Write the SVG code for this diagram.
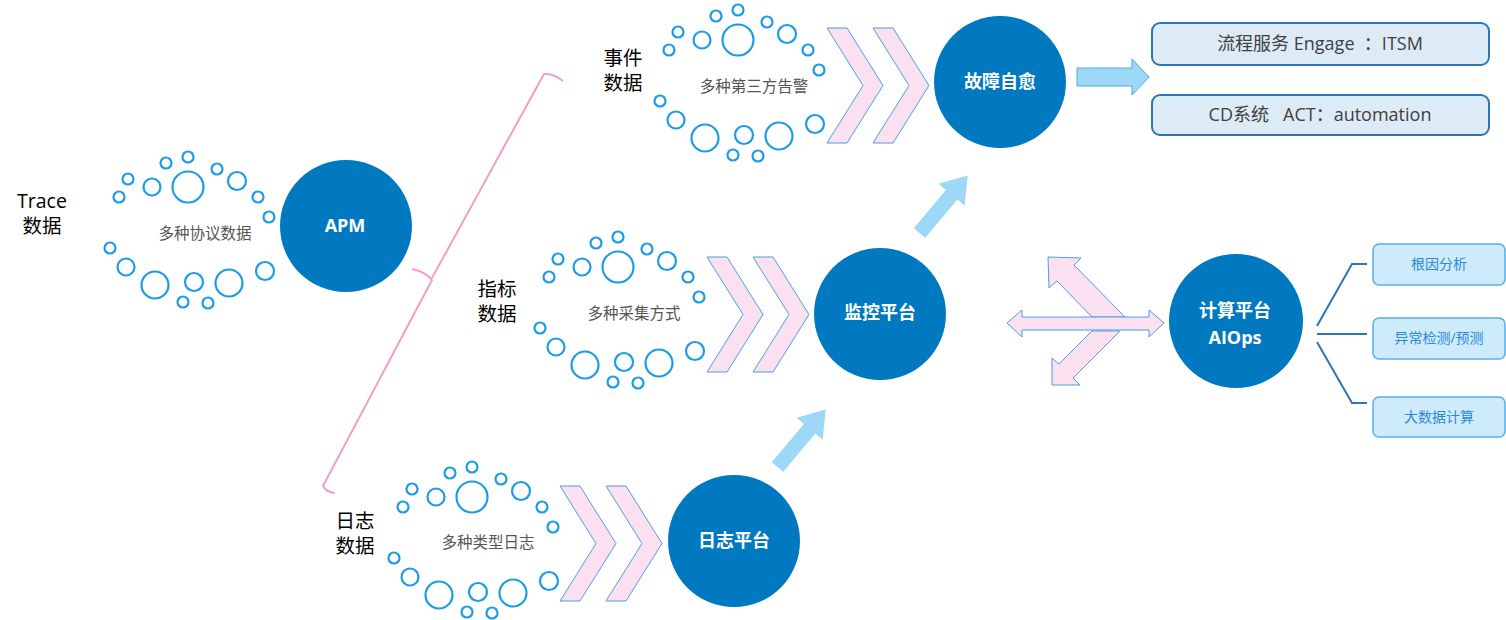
<svg xmlns="http://www.w3.org/2000/svg" xmlns:xlink="http://www.w3.org/1999/xlink" width="1506" height="620" viewBox="0 0 1506 620">
<style>
  text{font-family:"Open Sans","Noto Sans CJK SC",sans-serif;}
  .b{fill:none;stroke:#1E9BE6;stroke-width:2.2;}
  .chev{fill:#FBE1EF;stroke:#4A9FE0;stroke-width:1;}
  .pink{fill:#FBE1EF;stroke:#4A9FE0;stroke-width:1;}
  .node{fill:#0079C1;}
  .nl{fill:#ffffff;font-size:18px;font-weight:bold;text-anchor:middle;}
  .src{fill:#000000;font-size:19.5px;text-anchor:middle;}
  .sub{fill:#555555;font-size:15.5px;text-anchor:middle;}
  .barrow{fill:#9DD8F8;}
  .box1{fill:#DDEBF7;stroke:#2E75B6;stroke-width:2;}
  .box1t{fill:#404040;font-size:18px;text-anchor:middle;white-space:pre;}
  .box2{fill:#CDEBFB;stroke:#5AAEE8;stroke-width:1.5;}
  .box2t{fill:#2E88D6;font-size:14px;text-anchor:middle;}
  .branch{fill:none;stroke:#2E75B6;stroke-width:2;}
  .brace{fill:none;stroke:#F0A0C8;stroke-width:2;}
</style>
<defs>
  <g id="bubbles">
    <circle class="b" cx="549" cy="277" r="5.5"/>
    <circle class="b" cx="558" cy="259" r="5.5"/>
    <circle class="b" cx="582" cy="267" r="8.5"/>
    <circle class="b" cx="596" cy="243" r="5.5"/>
    <circle class="b" cx="618" cy="237" r="5.5"/>
    <circle class="b" cx="618" cy="267" r="15.5"/>
    <circle class="b" cx="647" cy="249" r="5.5"/>
    <circle class="b" cx="667" cy="261" r="9"/>
    <circle class="b" cx="688" cy="277" r="5.5"/>
    <circle class="b" cx="699" cy="297" r="5.5"/>
    <circle class="b" cx="540" cy="328" r="5.5"/>
    <circle class="b" cx="556" cy="347" r="8.5"/>
    <circle class="b" cx="585" cy="365" r="13.5"/>
    <circle class="b" cx="624" cy="362" r="9"/>
    <circle class="b" cx="613" cy="382" r="5.5"/>
    <circle class="b" cx="638" cy="383" r="5.5"/>
    <circle class="b" cx="659" cy="363" r="13.5"/>
    <circle class="b" cx="695" cy="351" r="9"/>
  </g>
  <path id="chev" class="chev" d="M0,0 L20,0 L56,57.5 L20,115 L0,115 L36,57.5 Z"/>
  <g id="chevs">
    <use xlink:href="#chev" href="#chev"/>
    <use xlink:href="#chev" href="#chev" x="46"/>
  </g>
  <polygon id="diag" class="barrow" points="0,-7.5 50,-7.5 50,-17 75,0 50,17 50,7.5 0,7.5"/>
</defs>

<g id="trace-source">
  <text class="src" x="42" y="208">Trace</text>
  <text class="src" x="42" y="233">数据</text>
  <use xlink:href="#bubbles" href="#bubbles" transform="translate(-430,-80)"/>
  <text class="sub" x="205" y="239">多种协议数据</text>
</g>
<g id="apm">
  <circle class="node" cx="346" cy="226" r="66"/>
  <text class="nl" x="345" y="232">APM</text>
</g>

<g id="event-source">
  <text class="src" x="623" y="65">事件</text>
  <text class="src" x="623" y="90">数据</text>
  <use xlink:href="#bubbles" href="#bubbles" transform="translate(120,-227)"/>
  <text class="sub" x="754" y="92">多种第三方告警</text>
  <use xlink:href="#chevs" href="#chevs" transform="translate(827,28)"/>
</g>
<g id="self-heal">
  <circle class="node" cx="1000" cy="82" r="66"/>
  <text class="nl" x="1000" y="88">故障自愈</text>
</g>

<g id="metric-source">
  <text class="src" x="497" y="296">指标</text>
  <text class="src" x="497" y="321">数据</text>
  <use xlink:href="#bubbles" href="#bubbles"/>
  <text class="sub" x="634" y="319">多种采集方式</text>
  <use xlink:href="#chevs" href="#chevs" transform="translate(707,257)"/>
</g>
<g id="monitor">
  <circle class="node" cx="880" cy="314" r="66"/>
  <text class="nl" x="880" y="319">监控平台</text>
</g>

<g id="log-source">
  <text class="src" x="355" y="528">日志</text>
  <text class="src" x="355" y="553">数据</text>
  <use xlink:href="#bubbles" href="#bubbles" transform="translate(-146,230)"/>
  <text class="sub" x="488" y="548">多种类型日志</text>
  <use xlink:href="#chevs" href="#chevs" transform="translate(560,486)"/>
</g>
<g id="log-platform">
  <circle class="node" cx="734" cy="541" r="66"/>
  <text class="nl" x="734" y="547">日志平台</text>
</g>

<g id="aiops">
  <circle class="node" cx="1236" cy="321" r="67"/>
  <text class="nl" x="1235" y="317">计算平台</text>
  <text class="nl" x="1235" y="344">AIOps</text>
</g>

<g id="itsm">
  <rect class="box1" x="1152" y="23" width="337" height="42" rx="8"/>
  <text class="box1t" x="1320" y="50">流程服务 Engage  ：ITSM</text>
</g>
<g id="cd">
  <rect class="box1" x="1152" y="95" width="337" height="40" rx="8"/>
  <text class="box1t" x="1320" y="121">CD系统   ACT：automation</text>
</g>

<g id="rca">
  <rect class="box2" x="1373" y="244" width="132" height="41" rx="6"/>
  <text class="box2t" x="1439" y="269">根因分析</text>
</g>
<g id="anomaly">
  <rect class="box2" x="1373" y="318" width="132" height="41" rx="6"/>
  <text class="box2t" x="1439" y="343">异常检测/预测</text>
</g>
<g id="bigdata">
  <rect class="box2" x="1373" y="397" width="132" height="40" rx="6"/>
  <text class="box2t" x="1439" y="422">大数据计算</text>
</g>

<g id="connectors">
  <path class="brace" d="M563,81 Q553,73 544,74 L432,278 M412,269 Q426,272 432,280 L323,486 Q326,492 335,493"/>
  <polygon class="barrow" stroke="#4FA8E0" stroke-width="1" points="1077,68 1132,68 1132,59 1149,77 1132,95 1132,86 1077,86"/>
  <use xlink:href="#diag" href="#diag" transform="translate(919.5,233) rotate(-50)"/>
  <use xlink:href="#diag" href="#diag" transform="translate(777.5,467) rotate(-50)"/>
  <polygon class="pink" points="1048,257 1081,258 1074,265 1125,317 1092,317 1057,281 1049,288"/>
  <polygon class="pink" points="1052,385 1052,358 1059,364 1092,331 1120,331 1073,378 1080,385"/>
  <polygon class="pink" points="1007,323 1022,310 1022,317 1149,317 1149,310 1164,323 1149,337 1149,330 1022,330 1022,337"/>
  <path class="branch" d="M1317,326 L1352,264 L1367,264"/>
  <path class="branch" d="M1317,334 L1367,334"/>
  <path class="branch" d="M1317,342 L1352,403 L1367,403"/>
</g>
</svg>
